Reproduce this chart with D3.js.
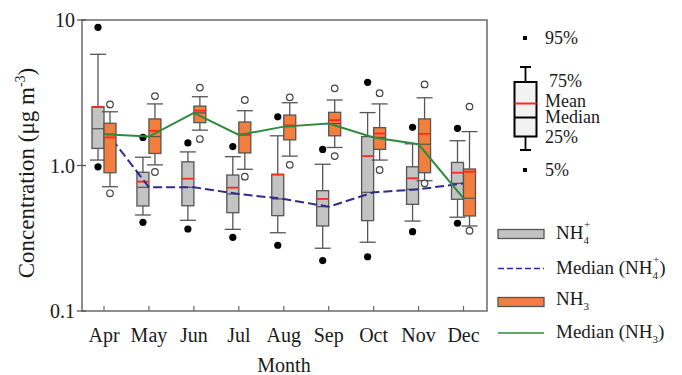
<!DOCTYPE html>
<html lang="en">
<head>
  <meta charset="utf-8">
  <title>NH4+ and NH3 monthly concentrations</title>
  <style>
  html, body {padding: 0; margin: 0; overflow: hidden; background: #fff}
  text {font-family: "Liberation Serif", "DejaVu Serif", serif; fill: #1a1a1a}
</style>
</head>
<body>
  <svg width="682" height="375"></svg>
  <script src="https://d3js.org/d3.v7.min.js"></script>
  <script>

  var months = ["Apr", "May", "Jun", "Jul", "Aug", "Sep", "Oct", "Nov", "Dec"];
  var yTicks = [0.1, 1, 10],
      yTickLabels = ["0.1", "1.0", "10"];

  // NH4+ percentiles (ug m-3)
  var nh4P5     = [0.98, 0.407, 0.366, 0.321, 0.283, 0.222, 0.236, 0.351, 0.401];
  var nh4P10    = [1.09, 0.457, 0.420, 0.364, 0.345, 0.270, 0.297, 0.415, 0.441];
  var nh4Q1     = [1.31, 0.527, 0.529, 0.474, 0.452, 0.384, 0.418, 0.541, 0.586];
  var nh4Median = [1.79, 0.708, 0.708, 0.637, 0.589, 0.521, 0.654, 0.686, 0.754];
  var nh4Q3     = [2.54, 0.898, 1.06, 0.860, 0.870, 0.671, 1.58, 0.98, 1.05];
  var nh4P90    = [5.81, 1.14, 1.24, 1.15, 1.60, 1.02, 2.31, 1.41, 1.48];
  var nh4P95    = [8.91, 1.56, 1.43, 1.35, 2.16, 1.29, 3.73, 1.83, 1.80];
  var nh4Mean   = [2.52, 0.774, 0.811, 0.704, 0.865, 0.589, 1.16, 0.817, 0.892];

  // NH3 percentiles (ug m-3)
  var nh3P5     = [0.644, 0.902, 1.52, 0.838, 1.01, 1.16, 0.931, 0.754, 0.356];
  var nh3P10    = [0.715, 1.01, 1.75, 0.942, 1.16, 1.33, 1.09, 0.786, 0.384];
  var nh3Q1     = [0.892, 1.21, 1.97, 1.22, 1.50, 1.60, 1.29, 0.892, 0.450];
  var nh3Median = [1.64, 1.58, 2.30, 1.62, 1.85, 1.94, 1.56, 1.40, 0.595];
  var nh3Q3     = [1.95, 2.09, 2.56, 1.99, 2.22, 2.32, 1.82, 2.09, 0.946];
  var nh3P90    = [2.34, 2.65, 2.97, 2.38, 2.70, 2.82, 2.65, 2.92, 1.71];
  var nh3P95    = [2.63, 3.00, 3.43, 2.82, 2.94, 3.39, 3.14, 3.61, 2.54];
  var nh3Mean   = [1.56, 1.73, 2.38, 1.64, 1.89, 2.05, 1.66, 1.65, 0.906];

  var svg = d3.select("svg");
  var plotL = 82, plotR = 487, plotT = 20, plotB = 311;

  var x = d3.scalePoint().domain(months).range([104, 463.5]);
  var y = d3.scaleLog().domain([0.1, 10]).range([plotB, plotT]);

  var boxW = 12, capW = 16;
  var grayFill = "#c3c3c3", orangeFill = "#f27f3d", edge = "#555",
      red = "#ff2a1a", blue = "#2f2a8c", green = "#2e8b3e";

  function rows(p5, p10, q1, med, q3, p90, p95, mean) {
    return months.map(function(m, i) {
      return {m: m, p5: p5[i], p10: p10[i], q1: q1[i], med: med[i], q3: q3[i], p90: p90[i], p95: p95[i], mean: mean[i]};
    });
  }
  var nh4 = rows(nh4P5, nh4P10, nh4Q1, nh4Median, nh4Q3, nh4P90, nh4P95, nh4Mean);
  var nh3 = rows(nh3P5, nh3P10, nh3Q1, nh3Median, nh3Q3, nh3P90, nh3P95, nh3Mean);

  function drawBoxes(data, offset, fill) {
    var g = svg.append("g");
    var b = g.selectAll("g").data(data).enter().append("g")
      .attr("transform", function(d) { return "translate(" + (x(d.m) + offset) + ",0)"; });
    // whiskers
    b.append("line").attr("x1", 0).attr("x2", 0)
      .attr("y1", function(d) { return y(d.p90); }).attr("y2", function(d) { return y(d.p10); })
      .attr("stroke", edge).attr("stroke-width", 1.3);
    b.append("line").attr("x1", -capW / 2).attr("x2", capW / 2)
      .attr("y1", function(d) { return y(d.p90); }).attr("y2", function(d) { return y(d.p90); })
      .attr("stroke", edge).attr("stroke-width", 1.3);
    b.append("line").attr("x1", -capW / 2).attr("x2", capW / 2)
      .attr("y1", function(d) { return y(d.p10); }).attr("y2", function(d) { return y(d.p10); })
      .attr("stroke", edge).attr("stroke-width", 1.3);
    b.append("rect").attr("x", -boxW / 2).attr("width", boxW)
      .attr("y", function(d) { return y(d.q3); })
      .attr("height", function(d) { return y(d.q1) - y(d.q3); })
      .attr("fill", fill).attr("stroke", edge).attr("stroke-width", 1.3);
    b.append("line").attr("x1", -boxW / 2).attr("x2", boxW / 2)
      .attr("y1", function(d) { return y(d.med); }).attr("y2", function(d) { return y(d.med); })
      .attr("stroke", edge).attr("stroke-width", 1.2);
    b.append("line").attr("x1", -boxW / 2).attr("x2", boxW / 2)
      .attr("y1", function(d) { return y(d.mean); }).attr("y2", function(d) { return y(d.mean); })
      .attr("stroke", red).attr("stroke-width", 1.8);
    return b;
  }

  function medianLine(values, color, dash) {
    var line = d3.line()
      .x(function(d, i) { return x(months[i]); })
      .y(function(d) { return y(d); });
    svg.append("path").datum(values)
      .attr("d", line)
      .attr("fill", "none")
      .attr("stroke", color)
      .attr("stroke-width", 2)
      .attr("stroke-dasharray", dash);
  }

  // NH4+ boxes and outliers
  var b4 = drawBoxes(nh4, -boxW / 2, grayFill);
  b4.each(function(d) {
    d3.select(this).selectAll("circle.o").data([d.p95, d.p5]).enter().append("circle")
      .attr("cx", 0).attr("cy", function(v) { return y(v); }).attr("r", 3.6).attr("fill", "#000");
  });
  medianLine(nh4Median, blue, "9,4");

  // NH3 boxes and outliers
  var b3 = drawBoxes(nh3, boxW / 2, orangeFill);
  b3.each(function(d) {
    d3.select(this).selectAll("circle.o").data([d.p95, d.p5]).enter().append("circle")
      .attr("cx", 0).attr("cy", function(v) { return y(v); }).attr("r", 3.3)
      .attr("fill", "#fff").attr("stroke", "#444").attr("stroke-width", 1.2);
  });
  medianLine(nh3Median, green, null);

  // frame
  svg.append("rect").attr("x", plotL).attr("y", plotT)
    .attr("width", plotR - plotL).attr("height", plotB - plotT)
    .attr("fill", "none").attr("stroke", "#6a6a6a").attr("stroke-width", 1.5);

  // y axis
  var yAxis = svg.append("g");
  yTicks.forEach(function(t, i) {
    yAxis.append("line").attr("x1", plotL - 5).attr("x2", plotL + 4)
      .attr("y1", y(t)).attr("y2", y(t)).attr("stroke", "#555").attr("stroke-width", 1.3);
    yAxis.append("text").attr("x", 75).attr("y", y(t) + 7)
      .attr("text-anchor", "end").style("font-size", "20px").text(yTickLabels[i]);
  });

  // x axis
  var xAxis = svg.append("g");
  months.forEach(function(m) {
    xAxis.append("line").attr("x1", x(m)).attr("x2", x(m))
      .attr("y1", plotB).attr("y2", plotB - 5).attr("stroke", "#666").attr("stroke-width", 1.2);
    xAxis.append("text").attr("x", x(m)).attr("y", 342)
      .attr("text-anchor", "middle").style("font-size", "20px").text(m);
  });
  svg.append("text").attr("x", 284).attr("y", 372)
    .attr("text-anchor", "middle").style("font-size", "20px").text("Month");

  var yl = svg.append("text")
    .attr("transform", "translate(34," + 173 + ") rotate(-90)")
    .attr("text-anchor", "middle").style("font-size", "23px");
  yl.append("tspan").text("Concentration (\u03bcg m");
  yl.append("tspan").attr("dy", -9).style("font-size", "14px").text("-3");
  yl.append("tspan").attr("dy", 9).text(")");

  // box legend
  var lg = svg.append("g");
  lg.append("rect").attr("x", 523).attr("y", 36).attr("width", 4).attr("height", 4).attr("fill", "#000");
  lg.append("rect").attr("x", 523).attr("y", 168).attr("width", 4).attr("height", 4).attr("fill", "#000");
  lg.append("line").attr("x1", 525.5).attr("x2", 525.5).attr("y1", 67).attr("y2", 150).attr("stroke", "#000").attr("stroke-width", 1.8);
  lg.append("line").attr("x1", 520).attr("x2", 531).attr("y1", 67).attr("y2", 67).attr("stroke", "#000").attr("stroke-width", 2);
  lg.append("line").attr("x1", 520).attr("x2", 531).attr("y1", 150).attr("y2", 150).attr("stroke", "#000").attr("stroke-width", 2);
  lg.append("rect").attr("x", 514.5).attr("y", 82).attr("width", 22).attr("height", 54.5)
    .attr("fill", "#f2f2f2").attr("stroke", "#000").attr("stroke-width", 2);
  lg.append("line").attr("x1", 514.5).attr("x2", 536.5).attr("y1", 103.5).attr("y2", 103.5).attr("stroke", red).attr("stroke-width", 2);
  lg.append("line").attr("x1", 514.5).attr("x2", 536.5).attr("y1", 117.5).attr("y2", 117.5).attr("stroke", "#000").attr("stroke-width", 2);
  [["95%", 545, 44], ["75%", 549, 87], ["Mean", 545, 107], ["Median", 545, 123], ["25%", 545, 143], ["5%", 545, 176]]
    .forEach(function(t) {
      lg.append("text").attr("x", t[1]).attr("y", t[2]).style("font-size", "18px").text(t[0]);
    });

  // series legend
  var sl = svg.append("g");
  sl.append("rect").attr("x", 498).attr("y", 229.5).attr("width", 46).attr("height", 9)
    .attr("fill", grayFill).attr("stroke", edge).attr("stroke-width", 1.3);
  sl.append("line").attr("x1", 498).attr("x2", 544).attr("y1", 268.5).attr("y2", 268.5)
    .attr("stroke", blue).attr("stroke-width", 1.5).attr("stroke-dasharray", "6,3");
  sl.append("rect").attr("x", 498).attr("y", 297.5).attr("width", 46).attr("height", 9)
    .attr("fill", orangeFill).attr("stroke", edge).attr("stroke-width", 1.3);
  sl.append("line").attr("x1", 498).attr("x2", 544).attr("y1", 333).attr("y2", 333)
    .attr("stroke", green).attr("stroke-width", 1.5);

  function chem(g, xx, yy, pre, sub, sup, post) {
    var t = g.append("text").attr("x", xx).attr("y", yy).style("font-size", "19px");
    t.append("tspan").text(pre);
    t.append("tspan").attr("dy", 5).style("font-size", "11px").text(sub);
    if (sup) {
      t.append("tspan").attr("dx", -5).attr("dy", -16).style("font-size", "11px").text(sup);
      t.append("tspan").attr("dy", 11).text(post || "");
    } else {
      t.append("tspan").attr("dy", -5).text(post || "");
    }
  }
  chem(sl, 556, 239, "NH", "4", "+", "");
  chem(sl, 556, 274, "Median (NH", "4", "+", ")");
  chem(sl, 556, 305, "NH", "3", null, "");
  chem(sl, 556, 338, "Median (NH", "3", null, ")");

  </script>
</body>
</html>
